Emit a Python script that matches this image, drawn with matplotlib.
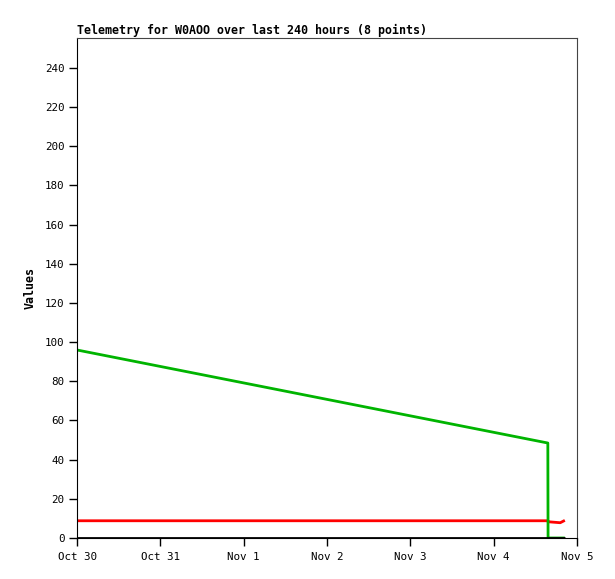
import matplotlib.pyplot as plt
import pandas as pd

times = pd.to_datetime(["2023-10-30 00:00", "2023-11-04 15:36", "2023-11-04 15:40",
                        "2023-11-04 19:10", "2023-11-04 20:30"])
green = [96, 48.5, 0, 0, 0]
red = [8.8, 8.8, 8.3, 7.8, 9.0]
black = [0, 0, 0, 0, 0]
yticks = list(range(0, 241, 20))
xticks = pd.to_datetime(["2023-10-30", "2023-10-31", "2023-11-01", "2023-11-02",
                         "2023-11-03", "2023-11-04", "2023-11-05"])
xlabels = ["Oct 30", "Oct 31", "Nov 1", "Nov 2", "Nov 3", "Nov 4", "Nov 5"]

plt.rcParams['font.family'] = 'DejaVu Sans Mono'

fig = plt.figure(figsize=(6.15, 5.79), dpi=100)
ax = fig.add_axes([77 / 615, 41 / 579, 500 / 615, 500 / 579])

ax.plot(times, red, color='#ff0000', lw=2, solid_capstyle='butt')
ax.plot(times, green, color='#00b400', lw=2, solid_capstyle='butt')
ax.plot(times, black, color='black', lw=2, solid_capstyle='butt')

ax.set_xlim(xticks[0], xticks[-1])
ax.set_ylim(0, 255.3)
ax.set_yticks(yticks)
ax.set_xticks(xticks)
ax.set_xticklabels(xlabels)
ax.tick_params(direction='out', length=6, width=1, labelsize=7.8, pad=3)
ax.tick_params(axis='x', pad=4)

for s in ['top', 'right']:
    ax.spines[s].set_color('#444444')
for s in ['left', 'bottom']:
    ax.spines[s].set_color('black')

ax.set_ylabel('Values', fontsize=8.4, fontweight='bold', labelpad=6)
ax.set_title('Telemetry for W0AOO over last 240 hours (8 points)', loc='left',
             fontsize=8.4, fontweight='bold', pad=3)

fig.savefig('out.png', dpi=100)
